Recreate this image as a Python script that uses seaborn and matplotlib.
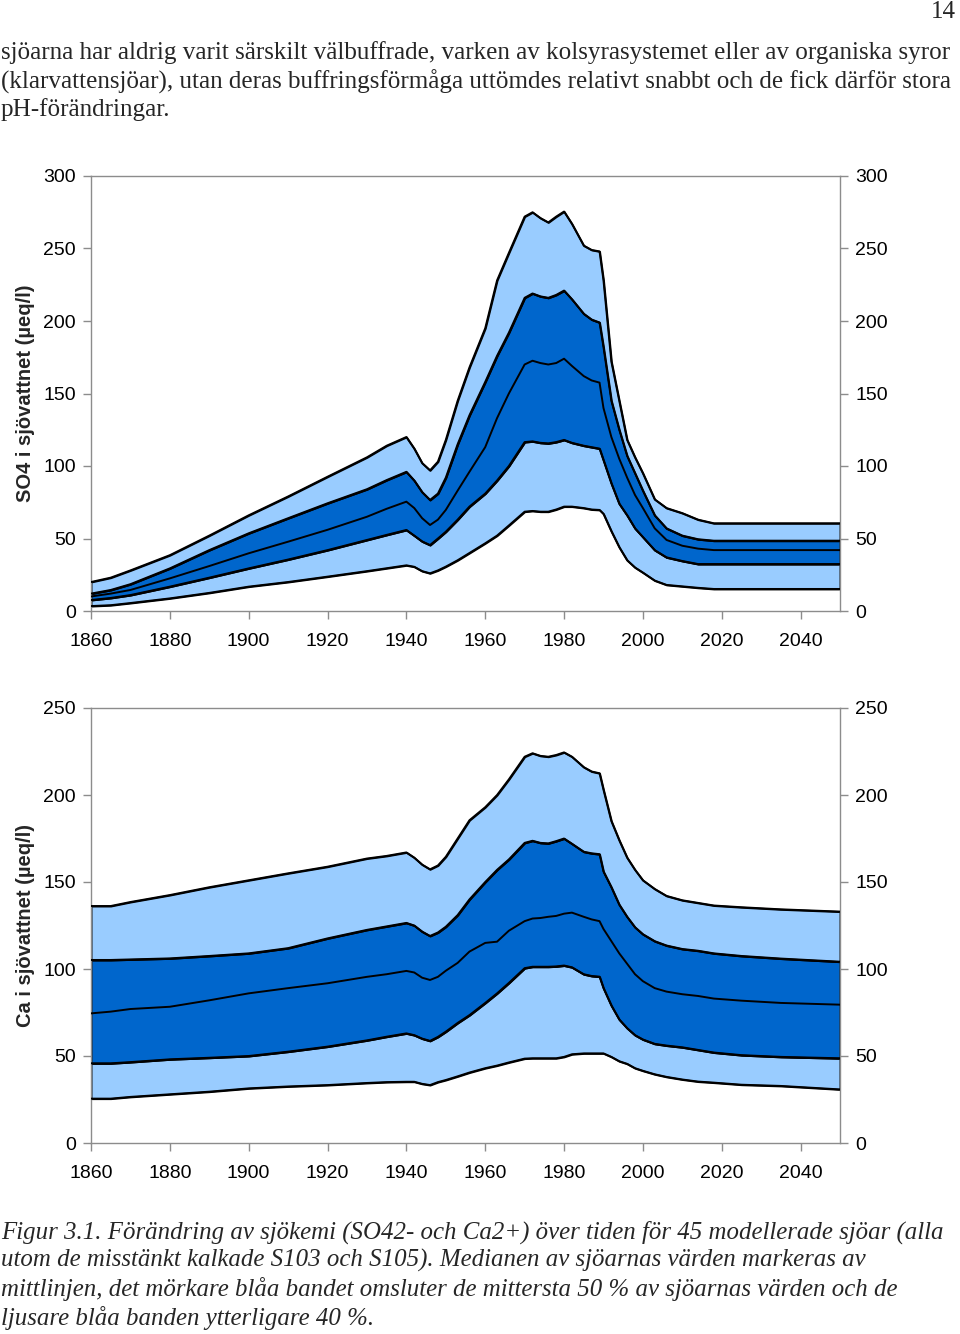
import numpy as np
import pandas as pd
import matplotlib
matplotlib.use("Agg")
import matplotlib.pyplot as plt
import seaborn as sns

# ---------------- data ----------------
years = [1860, 1865, 1870, 1880, 1890, 1900, 1910, 1920, 1930, 1935, 1940, 1942, 1944,
         1946, 1948, 1950, 1953, 1956, 1960, 1963, 1966, 1970, 1972, 1974, 1976, 1978,
         1980, 1982, 1985, 1987, 1989, 1990, 1992, 1994, 1996, 1998, 2000, 2003, 2006,
         2010, 2014, 2018, 2025, 2035, 2050]

# SO4 (µeq/l) percentiles
so4_p95 = [20, 23, 28, 38.5, 52, 66, 79, 92.6, 106, 114, 120, 112, 102,
           97, 103, 118, 145, 168, 195, 228, 247, 272, 275, 271, 268, 272,
           275.5, 267, 252, 249, 248, 228, 172, 145, 118, 106, 95, 77, 71,
           67.5, 63, 60.5, 60.5, 60.5, 60.5]
so4_p75 = [12, 14.5, 18.5, 29.4, 42, 53.6, 64, 74.3, 84, 90.3, 96, 90, 82,
           76.6, 81, 92, 115, 135, 158, 176, 192, 216, 219, 217, 216, 218,
           221, 215, 205, 201, 199, 182, 145, 125, 107, 95, 83, 66, 57,
           52, 49.5, 48.5, 48.5, 48.5, 48.5]
so4_p50 = [10, 12, 14.5, 22.5, 31, 39.8, 47.8, 56, 65, 70.5, 75.4, 71, 64,
           59.3, 63, 69.7, 83, 96, 113, 133, 150, 170, 172.6, 171, 170, 171,
           174, 169, 162, 159, 157.5, 140, 120, 105, 92, 80, 71, 57, 49,
           45, 43, 42, 42, 42, 42]
so4_p25 = [7.6, 9, 11, 16.8, 23, 29.4, 35.5, 42, 49, 52.5, 55.9, 52, 48,
           45.5, 50, 54.7, 63, 72, 81, 90, 100, 116.5, 117, 116, 115.6, 116.5,
           118, 116, 114, 113, 112, 104, 88, 74, 66, 57, 51, 42, 37,
           34.5, 32.4, 32.4, 32.4, 32.4, 32.4]
so4_p5 = [3.4, 4, 5.5, 8.7, 12.5, 16.8, 20, 23.7, 27.5, 29.5, 31.5, 30.5, 27.5,
          26, 28, 30.6, 35, 40, 46.7, 52, 59, 68.5, 69, 68.5, 68.5, 70,
          72, 72, 71, 70, 69.7, 67, 55, 44, 35, 30, 26.5, 21, 18,
          17, 16, 15.2, 15.2, 15.2, 15.2]

# Ca (µeq/l) percentiles
ca_p95 = [136.2, 136.2, 138.5, 142.5, 147, 151, 155, 158.8, 163.5, 165, 167, 164, 160,
          157.3, 159.5, 164.5, 175, 185.5, 193, 200, 209, 222, 224, 222.5, 222, 223,
          224.5, 222, 216, 213.5, 212.5, 203, 185, 174, 164, 157, 151, 146, 142,
          139.5, 138, 136.5, 135.5, 134.3, 133]
ca_p75 = [105.2, 105.2, 105.5, 106.1, 107.5, 109, 112, 117.6, 122.5, 124.5, 126.5, 125, 121.5,
          119, 121, 124.3, 131, 140, 150, 157, 163, 172.5, 173.7, 172.5, 172.2, 173.5,
          175, 172, 167.4, 166.5, 166, 156, 147, 137, 130, 124, 120, 116, 113.5,
          111.5, 110.5, 109, 107.5, 106, 104.2]
ca_p50 = [74.5, 75.5, 77, 78.3, 82, 86, 89, 91.8, 95.5, 97, 98.9, 98, 95,
          93.7, 95.5, 99, 103.5, 110, 115, 115.7, 122, 127.5, 129, 129.3, 130, 130.5,
          131.8, 132.4, 130, 128.5, 127.5, 123, 116, 109, 103, 97, 93, 89, 87,
          85.5, 84.5, 83, 81.8, 80.5, 79.5]
ca_p25 = [45.8, 45.8, 46.5, 48.1, 49, 50, 52.5, 55.4, 59, 61.1, 63, 62, 60,
          58.7, 61, 64, 69, 73.5, 80.5, 86, 92, 100.5, 101.3, 101.3, 101.3, 101.5,
          102, 101, 97, 96, 95.6, 89, 79, 71, 66, 62, 59.5, 57, 56,
          55, 53.5, 52, 50.5, 49.5, 48.7]
ca_p5 = [25.5, 25.5, 26.5, 28, 29.5, 31.4, 32.5, 33.3, 34.5, 35, 35.2, 35.2, 34,
         33.3, 35, 36.2, 38.3, 40.5, 43, 44.5, 46.3, 48.5, 48.7, 48.7, 48.7, 48.7,
         49.5, 51, 51.5, 51.5, 51.5, 51.5, 49.5, 47, 45.5, 43, 41.5, 39.5, 38,
         36.5, 35.3, 34.7, 33.5, 32.8, 30.8]

x_ticks = [1860, 1880, 1900, 1920, 1940, 1960, 1980, 2000, 2020, 2040]
so4_yticks = [0, 50, 100, 150, 200, 250, 300]
ca_yticks = [0, 50, 100, 150, 200, 250]

so4_label = "SO4 i sjövattnet (µeq/l)"
ca_label = "Ca i sjövattnet (µeq/l)"

page_number = "14"
intro_lines = [
    "sjöarna har aldrig varit särskilt välbuffrade, varken av kolsyrasystemet eller av organiska syror",
    "(klarvattensjöar), utan deras buffringsförmåga uttömdes relativt snabbt och de fick därför stora",
    "pH-förändringar.",
]
caption_lines = [
    "Figur 3.1. Förändring av sjökemi (SO42- och Ca2+) över tiden för 45 modellerade sjöar (alla",
    "utom de misstänkt kalkade S103 och S105). Medianen av sjöarnas värden markeras av",
    "mittlinjen, det mörkare blåa bandet omsluter de mittersta 50 % av sjöarnas värden och de",
    "ljusare blåa banden ytterligare 40 %.",
]

# ---------------- style ----------------
sns.set_theme(style="white")
plt.rcParams["font.family"] = ["Liberation Sans", "DejaVu Sans"]

LIGHT = "#99CCFF"
DARK = "#0066CC"
FRAME = "#8C8C8C"

W, H = 960, 1334
fig = plt.figure(figsize=(W / 100, H / 100), dpi=100)


def make_panel(rect, p5, p25, p50, p75, p95, yticks, ylabel):
    ax = fig.add_axes(rect)
    ax.fill_between(years, p5, p25, facecolor=LIGHT, edgecolor="black", linewidth=1.4, zorder=2)
    ax.fill_between(years, p25, p75, facecolor=DARK, edgecolor="black", linewidth=1.4, zorder=2)
    ax.fill_between(years, p75, p95, facecolor=LIGHT, edgecolor="black", linewidth=1.4, zorder=2)
    df = pd.DataFrame({"year": years * 5,
                       "value": list(p5) + list(p25) + list(p50) + list(p75) + list(p95),
                       "pct": (["p5"] * len(years) + ["p25"] * len(years) + ["p50"] * len(years)
                               + ["p75"] * len(years) + ["p95"] * len(years))})
    sns.lineplot(data=df, x="year", y="value", hue="pct", units="pct", estimator=None,
                 palette=["black"] * 5, linewidth=1.4, legend=False, ax=ax, zorder=3)
    ax.set_xlim(1860, 2050)
    ax.set_ylim(yticks[0], yticks[-1])
    ax.set_xticks(x_ticks)
    ax.set_xticklabels([str(t) for t in x_ticks])
    ax.set_yticks(yticks)
    ax.set_yticklabels([str(t) for t in yticks])
    ax.set_xlabel("")
    ax.set_ylabel(ylabel, fontsize=14.5, fontweight="bold", labelpad=6)
    for s in ax.spines.values():
        s.set_visible(True)
        s.set_color(FRAME)
        s.set_linewidth(1.0)
    ax.tick_params(axis="both", which="both", direction="out", length=6, width=1.0,
                   color=FRAME, labelsize=14, labelcolor="black")
    ax.tick_params(axis="x", pad=10, bottom=True)
    ax.tick_params(axis="y", pad=5, left=True, right=True, labelleft=True, labelright=True)
    ax.grid(False)
    ax.set_facecolor("white")
    return ax


L = 91 / W
Wd = (840 - 91) / W
make_panel([L, 1 - 611 / H, Wd, 435 / H], so4_p5, so4_p25, so4_p50, so4_p75, so4_p95,
           so4_yticks, so4_label)
make_panel([L, 1 - 1143 / H, Wd, 435 / H], ca_p5, ca_p25, ca_p50, ca_p75, ca_p95,
           ca_yticks, ca_label)

serif = ["Liberation Serif", "DejaVu Serif"]
fig.text(956 / W, 1 - 12 / H, page_number, ha="right", va="center", fontsize=18, family=serif)
for i, line in enumerate(intro_lines):
    fig.text(1 / W, 1 - (53 + 28.5 * i) / H, line, ha="left", va="center",
             fontsize=18.1, family=serif)
for i, line in enumerate(caption_lines):
    fig.text(1 / W, 1 - (1232 + 28.5 * i) / H, line, ha="left", va="center",
             fontsize=17.9, family=serif, style="italic")

fig.savefig("out.png", dpi=100, facecolor="white")
